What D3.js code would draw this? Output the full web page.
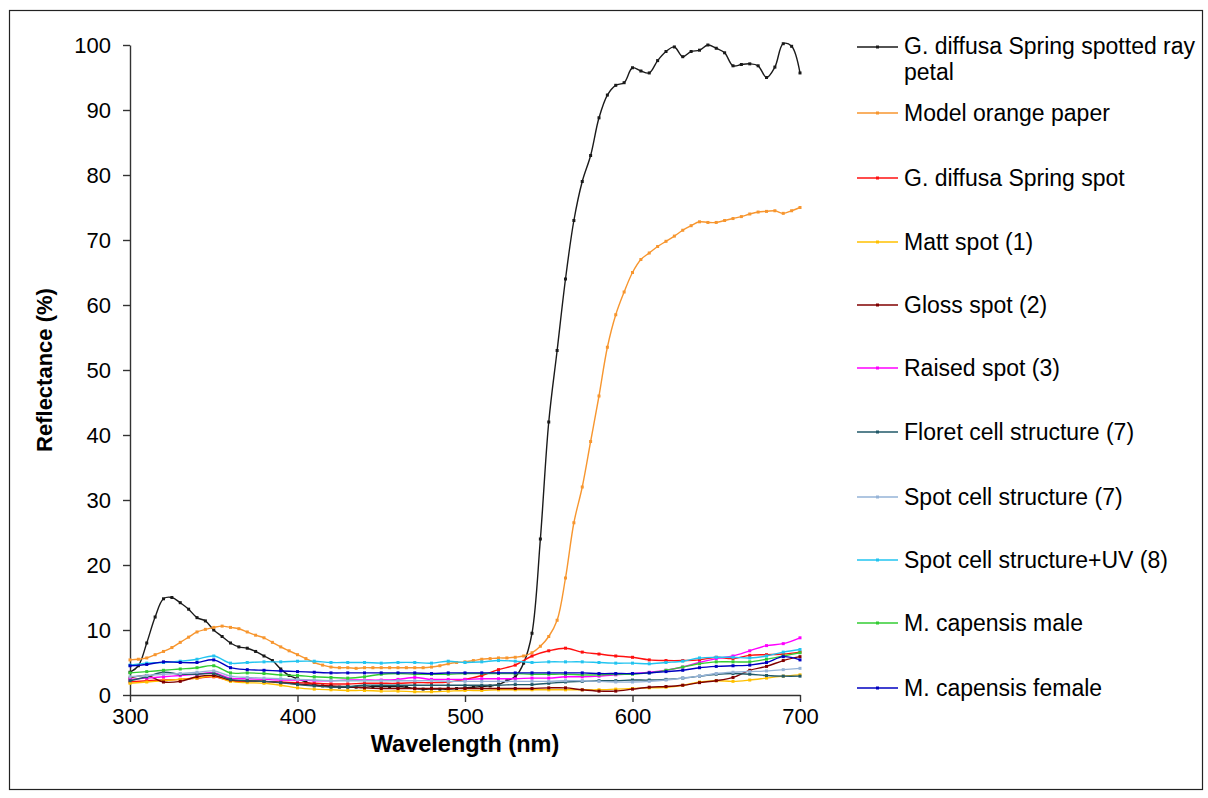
<!DOCTYPE html>
<html>
<head>
<meta charset="utf-8">
<script src="https://cdn.jsdelivr.net/npm/d3@7"></script>
<style>
	body { margin: 0; background: #fff; }
	svg { display: block; }
	text { font-family: Arial, "Liberation Sans", sans-serif; fill: #000; }
</style>
</head>
<body>
<div id="container"></div>
<script>
// ==============
//	DATA
// ==============

// wavelengths (nm) for the two big curves, 5 nm steps
var wl5 = [300,305,310,315,320,325,330,335,340,345,350,355,360,365,370,375,380,385,390,395,
	400,405,410,415,420,425,430,435,440,445,450,455,460,465,470,475,480,485,490,495,
	500,505,510,515,520,525,530,535,540,545,550,555,560,565,570,575,580,585,590,595,
	600,605,610,615,620,625,630,635,640,645,650,655,660,665,670,675,680,685,690,695,700];

// wavelengths (nm) for the low curves, 10 nm steps
var wl10 = [300,310,320,330,340,350,360,370,380,390,400,410,420,430,440,450,460,470,480,490,
	500,510,520,530,540,550,560,570,580,590,600,610,620,630,640,650,660,670,680,690,700];

var petal = [3.5,4.5,8.0,12.0,14.8,15.0,14.2,13.2,11.9,11.4,10.0,9.0,8.0,7.4,7.2,6.7,6.0,5.3,4.0,3.0,
	2.5,2.0,1.6,1.4,1.3,1.2,1.2,1.2,1.2,1.3,1.3,1.3,1.3,1.2,1.0,0.9,0.9,0.9,0.9,1.0,
	1.1,1.2,1.3,1.4,1.6,2.2,2.8,4.9,9.5,24,42,53,64,73,79,83,88.8,92.3,93.8,94.2,
	96.5,96,95.7,97.6,99,99.7,98.2,99,99.2,100,99.5,98.8,96.8,97,97.1,96.8,95,96.6,100.2,99.8,95.7];

var orangePaper = [5.4,5.5,5.7,6.2,6.7,7.3,8.1,8.9,9.7,10.1,10.4,10.6,10.4,10.2,9.7,9.2,8.8,8.1,7.4,6.8,
	6.2,5.6,5.0,4.6,4.3,4.2,4.2,4.1,4.2,4.2,4.2,4.2,4.2,4.2,4.2,4.2,4.3,4.5,4.8,5.0,
	5.1,5.3,5.5,5.6,5.7,5.7,5.8,6.0,6.5,7.5,9.0,11.5,18,26.5,32,39,46,53.5,58.5,62,
	65,67,68,69,69.8,70.6,71.5,72.2,72.8,72.7,72.7,73,73.3,73.6,74,74.3,74.4,74.5,74.1,74.5,75];

var springSpot = [2.0,2.2,2.3,2.4,2.6,2.8,2.2,2.1,2.1,2.0,1.9,1.8,1.7,1.7,1.8,1.8,1.8,1.9,1.9,2.0,
	2.4,3.0,3.9,4.6,6.0,6.8,7.2,6.6,6.3,6.0,5.8,5.4,5.3,5.3,5.4,5.8,5.6,6.1,6.2,6.3,6.6];

var mattSpot = [1.8,2.0,2.2,2.4,2.6,2.9,2.1,1.9,1.8,1.5,1.1,0.9,0.8,0.7,0.7,0.6,0.6,0.5,0.5,0.6,
	0.7,0.7,0.8,0.8,0.8,0.8,0.8,0.8,0.8,0.9,1.0,1.1,1.2,1.5,2.0,2.2,2.1,2.3,2.6,2.9,3.1];

var glossSpot = [2.6,3.0,2.0,2.1,2.8,3.0,2.3,2.2,2.1,1.9,1.7,1.5,1.4,1.3,1.1,1.0,1.0,1.0,1.0,1.0,
	1.0,1.0,1.0,1.0,1.0,1.1,1.1,0.8,0.6,0.6,0.9,1.2,1.3,1.5,1.9,2.2,2.7,3.8,4.4,5.3,5.9];

var raisedSpot = [2.4,2.6,2.8,3.0,3.2,3.4,2.6,2.5,2.4,2.3,2.3,2.2,2.2,2.3,2.3,2.3,2.4,2.7,2.4,2.4,
	2.4,2.5,2.5,2.5,2.6,2.6,2.8,2.8,2.9,3.1,3.3,3.5,3.8,4.3,5.0,5.6,6.0,6.8,7.6,7.9,8.8];

var floretCell = [2.2,2.8,3.5,3.2,3.2,3.3,2.4,2.2,2.1,1.9,1.6,1.4,1.2,1.3,1.5,1.5,1.5,1.5,1.5,1.5,
	1.5,1.5,1.5,1.6,1.6,1.8,2.0,2.1,2.2,2.2,2.3,2.3,2.4,2.6,2.9,3.2,3.3,3.2,3.0,2.9,2.9];

var spotCell = [2.8,3.0,3.2,3.3,3.5,3.7,2.9,2.7,2.6,2.5,2.4,2.3,2.2,2.2,2.2,2.2,2.2,2.2,2.2,2.1,
	2.1,2.1,2.1,2.1,2.1,2.1,2.2,2.2,2.1,2.0,2.0,2.1,2.3,2.6,2.9,3.3,3.5,3.6,3.7,3.9,4.1];

var spotCellUV = [4.6,4.9,5.0,5.2,5.5,6.0,4.9,5.0,5.1,5.1,5.2,5.2,5.0,5.0,5.0,4.9,5.0,5.0,4.9,5.2,
	5.0,5.1,5.3,5.2,5.0,5.1,5.1,5.1,5.0,4.9,4.9,4.8,5.0,5.2,5.7,5.8,5.8,5.7,6.0,6.6,7.0];

var capensisMale = [3.4,3.6,3.8,4.0,4.2,4.5,3.4,3.4,3.3,3.1,3.0,2.8,2.7,2.6,2.8,3.2,3.3,3.2,3.2,3.2,
	3.3,3.3,3.3,3.3,3.2,3.2,3.2,3.1,3.1,3.2,3.2,3.4,3.8,4.3,4.8,5.1,5.1,5.1,5.5,6.0,6.5];

var capensisFemale = [4.5,4.7,5.1,5.0,5.0,5.4,4.2,3.9,3.8,3.7,3.6,3.5,3.4,3.4,3.4,3.4,3.4,3.4,3.3,3.4,
	3.4,3.4,3.4,3.4,3.4,3.4,3.4,3.4,3.3,3.3,3.3,3.4,3.6,3.8,4.2,4.4,4.5,4.6,5.0,5.9,5.4];

var seriesNames = ["G. diffusa Spring spotted ray petal", "Model orange paper", "G. diffusa Spring spot",
	"Matt spot (1)", "Gloss spot (2)", "Raised spot (3)", "Floret cell structure (7)",
	"Spot cell structure (7)", "Spot cell structure+UV (8)", "M. capensis male", "M. capensis female"];
var seriesValues = [petal, orangePaper, springSpot, mattSpot, glossSpot, raisedSpot, floretCell,
	spotCell, spotCellUV, capensisMale, capensisFemale];
var seriesColors = ["#1a1a1a", "#f7962f", "#ff1010", "#ffc000", "#800000", "#ff00ff", "#215968",
	"#95b3d7", "#22c4f0", "#33cc33", "#0000c0"];

var yTicks = [0, 10, 20, 30, 40, 50, 60, 70, 80, 90, 100];
var xTicks = [300, 400, 500, 600, 700];

// ==============
//	LAYOUT
// ==============

var W = 1208, H = 798,
	plot = {left: 130, right: 800, top: 45, bottom: 695};

var svg = d3.select("#container").append("svg")
	.attr("width", W)
	.attr("height", H);

// outer frame
svg.append("rect")
	.attr("x", 9.5).attr("y", 10.5)
	.attr("width", 1193).attr("height", 779)
	.attr("fill", "#fff")
	.attr("stroke", "#222")
	.attr("stroke-width", 1.2);

var x = d3.scaleLinear().domain([300, 700]).range([plot.left, plot.right]);
var y = d3.scaleLinear().domain([0, 100]).range([plot.bottom, plot.top]);

// === axes
var yAxis = svg.append("g")
	.attr("transform", "translate(" + plot.left + ",0)")
	.call(d3.axisLeft(y).tickValues(yTicks).tickSize(7).tickSizeOuter(0).tickPadding(12));

var xAxis = svg.append("g")
	.attr("transform", "translate(0," + plot.bottom + ")")
	.call(d3.axisBottom(x).tickValues(xTicks).tickSize(7).tickSizeOuter(0).tickPadding(6));

[yAxis, xAxis].forEach(function(ax) {
	ax.selectAll("path, line").attr("stroke", "#333").attr("stroke-width", 1.4);
	ax.selectAll("text")
		.style("font-family", "Arial, 'Liberation Sans', sans-serif")
		.style("font-size", "22px")
		.attr("fill", "#000");
});

// === axis titles
svg.append("text")
	.attr("x", (plot.left + plot.right) / 2)
	.attr("y", 752)
	.attr("text-anchor", "middle")
	.style("font-size", "23.5px")
	.style("font-weight", "bold")
	.text("Wavelength (nm)");

svg.append("text")
	.attr("transform", "translate(52," + ((plot.top + plot.bottom) / 2) + ") rotate(-90)")
	.attr("text-anchor", "middle")
	.style("font-size", "22px")
	.style("font-weight", "bold")
	.text("Reflectance (%)");

// === series
var line = d3.line()
	.x(d => x(d[0]))
	.y(d => y(d[1]))
	.curve(d3.curveCatmullRom.alpha(0.5));

var series = seriesValues.map(function(vals, i) {
	var wl = vals.length === wl5.length ? wl5 : wl10;
	return {name: seriesNames[i], color: seriesColors[i], points: vals.map((v, j) => [wl[j], v])};
});

var g = svg.append("g");

series.forEach(function(s) {
	g.append("path")
		.datum(s.points)
		.attr("d", line)
		.attr("fill", "none")
		.attr("stroke", s.color)
		.attr("stroke-width", 1.4);

	g.selectAll(null)
		.data(s.points)
		.join("rect")
		.attr("x", d => x(d[0]) - 1.5)
		.attr("y", d => y(d[1]) - 1.5)
		.attr("width", 3)
		.attr("height", 3)
		.attr("fill", s.color);
});

// === legend
var legendY = [47, 113, 178, 242, 305, 368, 432, 497, 560, 623, 688];

var legend = svg.append("g");

series.forEach(function(s, i) {
	var ly = legendY[i];
	legend.append("line")
		.attr("x1", 857).attr("x2", 898)
		.attr("y1", ly).attr("y2", ly)
		.attr("stroke", s.color)
		.attr("stroke-width", 1.4);
	legend.append("rect")
		.attr("x", 876).attr("y", ly - 1.5)
		.attr("width", 3).attr("height", 3)
		.attr("fill", s.color);

	var t = legend.append("text")
		.attr("x", 904)
		.attr("y", i === 0 ? ly - 1 : ly)
		.attr("dy", "0.35em")
		.style("font-size", "23px");

	// the first label wraps onto a second line
	if (i === 0) {
		t.append("tspan").text("G. diffusa Spring spotted ray");
		t.append("tspan").attr("x", 904).attr("dy", "1.12em").text("petal");
	} else {
		t.text(s.name);
	}
});
</script>
</body>
</html>
